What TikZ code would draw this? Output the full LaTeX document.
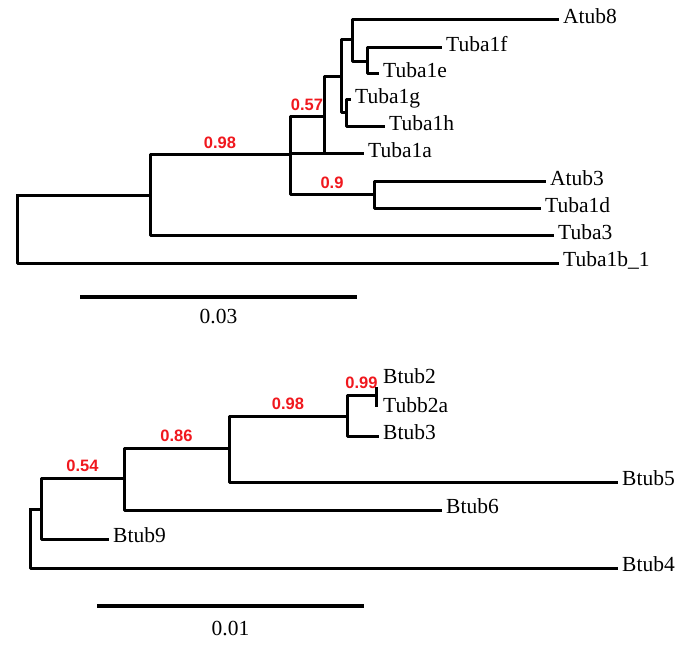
\documentclass[tikz,border=0pt]{standalone}
\usepackage{fontspec}
\setmainfont{Liberation Serif}
\newfontfamily\suppfont{Liberation Sans}
\usetikzlibrary{positioning}
\definecolor{suppred}{RGB}{240,24,30}
\tikzstyle{branch}=[line width=3pt,line cap=rect,line join=round,draw=black]
\tikzstyle{taxon}=[anchor=west,inner xsep=6pt,inner ysep=0pt,text height=0.66em,text depth=0pt,font=\fontsize{21.5}{21.5}\selectfont]
\tikzstyle{support}=[above,inner sep=0pt,yshift=4.5pt,text=suppred,font=\suppfont\bfseries\fontsize{16.5}{16.5}\selectfont]
\tikzstyle{scalebar}=[line width=3.2pt,draw=black]
\tikzstyle{scalelabel}=[inner sep=0pt,text height=0.66em,text depth=0pt,font=\fontsize{21.5}{21.5}\selectfont]

\begin{document}
\begin{tikzpicture}[x=1pt,y=-1pt]
    \useasboundingbox (0,0) rectangle (688,655);
    
    % alpha tubulins
    \coordinate (r0) at (17,196);
    \coordinate (a)  at (150,196);
    \coordinate (b)  at (290,155);
    \coordinate (c)  at (324,117);
    \coordinate (d)  at (374,195);
    \coordinate (e)  at (341,77);
    \coordinate (f)  at (352,40);
    \coordinate (g)  at (346,113);
    \coordinate (h)  at (367,62);
    
    \node[taxon] (atub8)   at (557,20)  {Atub8};
    \node[taxon] (tuba1f)  at (440,48)  {Tuba1f};
    \node[taxon] (tuba1e)  at (377,74)  {Tuba1e};
    \node[taxon] (tuba1g)  at (349,100) {Tuba1g};
    \node[taxon] (tuba1h)  at (383,127) {Tuba1h};
    \node[taxon] (tuba1a)  at (362,154) {Tuba1a};
    \node[taxon] (atub3)   at (544,182) {Atub3};
    \node[taxon] (tuba1d)  at (539,209) {Tuba1d};
    \node[taxon] (tuba3)   at (552,236) {Tuba3};
    \node[taxon] (tuba1b1) at (557,263) {Tuba1b\_1};
    
    \foreach \p/\c in {r0/a,r0/tuba1b1.west,a/tuba3.west,b/tuba1a.west,
        d/atub3.west,d/tuba1d.west,c/e,c/tuba1a.west,e/f,e/g,
        f/atub8.west,f/h,h/tuba1f.west,h/tuba1e.west,g/tuba1g.west,g/tuba1h.west}
        \draw[branch] (\p) |- (\c);
    \draw[branch] (a) |- node[support,pos=0.75] {0.98} (b);
    \draw[branch] (b) |- node[support,pos=0.75] {0.57} (c);
    \draw[branch] (b) |- node[support,pos=0.75] {0.9} (d);
    
    \coordinate (sa1) at (80,297);
    \coordinate (sa2) at (357,297);
    \draw[scalebar] (sa1) -- node[scalelabel,below=18pt] (sa) {0.03} (sa2);
    
    % beta tubulins
    \coordinate (s0) at (30,509);
    \coordinate (t)  at (41,509);
    \coordinate (u)  at (124,478);
    \coordinate (v)  at (229,448);
    \coordinate (w)  at (347,416);
    \coordinate (x)  at (376,395);
    \coordinate (btub2tip)  at (376,388);
    \coordinate (tubb2atip) at (376,405);
    
    \node[taxon] (btub2)  at (377,380) {Btub2};
    \node[taxon] (tubb2a) at (377,409) {Tubb2a};
    \node[taxon] (btub3)  at (377,436) {Btub3};
    \node[taxon] (btub5)  at (616,482) {Btub5};
    \node[taxon] (btub6)  at (440,510) {Btub6};
    \node[taxon] (btub9)  at (107,539) {Btub9};
    \node[taxon] (btub4)  at (616,568) {Btub4};
    
    \foreach \p/\c in {s0/t,s0/btub4.west,t/btub9.west,u/btub6.west,
        v/btub5.west,w/btub3.west,x/btub2tip,x/tubb2atip}
        \draw[branch] (\p) |- (\c);
    \draw[branch] (t) |- node[support,pos=0.75] {0.54} (u);
    \draw[branch] (u) |- node[support,pos=0.75] {0.86} (v);
    \draw[branch] (v) |- node[support,pos=0.75] {0.98} (w);
    \draw[branch] (w) |- node[support,pos=0.75] {0.99} (x);
    
    \coordinate (sb1) at (97,606);
    \coordinate (sb2) at (364,606);
    \draw[scalebar] (sb1) -- node[scalelabel,below=21pt] (sb) {0.01} (sb2);
    
\end{tikzpicture}
\end{document}
